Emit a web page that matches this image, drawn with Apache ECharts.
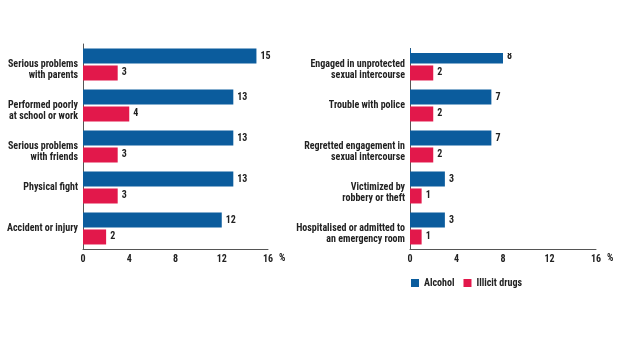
<!DOCTYPE html>
<html>
<head>
<meta charset="utf-8">
<script src="https://cdn.jsdelivr.net/npm/echarts@6/dist/echarts.min.js"></script>
<style>
  html, body { margin: 0; padding: 0; background: #fff; }
  #chart { width: 620px; height: 348px; }
</style>
</head>
<body>
<div id="chart"></div>
<script>
// Consequences reported, by substance (% of respondents)
const leftCategories = [
  'Serious problems\nwith parents',
  'Performed poorly\nat school or work',
  'Serious problems\nwith friends',
  'Physical fight',
  'Accident or injury'
];
const leftAlcohol = [15, 13, 13, 13, 12];
const leftDrugs = [3, 4, 3, 3, 2];

const rightCategories = [
  'Engaged in unprotected\nsexual intercourse',
  'Trouble with police',
  'Regretted engagement in\nsexual intercourse',
  'Victimized by\nrobbery or theft',
  'Hospitalised or admitted to\nan emergency room'
];
const rightAlcohol = [8, 7, 7, 3, 3];
const rightDrugs = [2, 2, 2, 1, 1];

const axisTicks = [0, 4, 8, 12, 16];
const seriesNames = ['Alcohol', 'Illicit drugs'];

const BLUE = '#0b5c9d';
const RED = '#e2184b';
const TEXT = '#222';
const FONT = '"Roboto Condensed", "DejaVu Sans Condensed", sans-serif';
const WEIGHT = 'bold';
const SIZE = 10;

const chart = echarts.init(document.getElementById('chart'), null, { renderer: 'canvas' });

function xAxisFor(gridIndex) {
  return {
    type: 'value',
    gridIndex: gridIndex,
    min: axisTicks[0],
    max: axisTicks[axisTicks.length - 1],
    interval: axisTicks[1] - axisTicks[0],
    name: '%',
    nameLocation: 'end',
    nameGap: 6,
    nameTextStyle: {
      color: TEXT, fontFamily: FONT, fontSize: SIZE, fontWeight: WEIGHT,
      verticalAlign: 'top', lineHeight: 10, padding: [4, 0, 0, 0]
    },
    axisLine: { show: true, lineStyle: { color: '#555', width: 1 } },
    axisTick: { show: false },
    splitLine: { show: false },
    axisLabel: {
      color: TEXT, fontFamily: FONT, fontSize: SIZE, fontWeight: WEIGHT, margin: 5
    }
  };
}

function yAxisFor(gridIndex, cats) {
  return {
    type: 'category',
    gridIndex: gridIndex,
    data: cats,
    inverse: true,
    axisLine: { show: true, lineStyle: { color: '#555', width: 1 } },
    axisTick: { show: false },
    axisLabel: {
      color: TEXT, fontFamily: FONT, fontSize: SIZE, fontWeight: WEIGHT,
      lineHeight: 11, margin: 5, align: 'right',
      // keep the first text line on the row centre
      formatter: v => (v.indexOf('\n') >= 0 ? '\n' + v : v)
    }
  };
}

function barSeries(name, data, color, axisIdx) {
  return {
    name: name,
    type: 'bar',
    xAxisIndex: axisIdx,
    yAxisIndex: axisIdx,
    data: data,
    barWidth: 15,
    barGap: '13%',
    itemStyle: { color: color },
    label: {
      show: true, position: 'right', distance: 4,
      color: TEXT, fontFamily: FONT, fontSize: SIZE, fontWeight: WEIGHT
    }
  };
}

chart.setOption({
  backgroundColor: '#fff',
  animation: false,
  grid: [
    { left: 83, width: 185, top: 44, height: 205, containLabel: false, outerBoundsMode: 'none' },
    { left: 410, width: 186, top: 44, height: 205, containLabel: false, outerBoundsMode: 'none' }
  ],
  xAxis: [xAxisFor(0), xAxisFor(1)],
  yAxis: [yAxisFor(0, leftCategories), yAxisFor(1, rightCategories)],
  legend: {
    data: seriesNames,
    left: 411,
    top: 278,
    padding: 0,
    icon: 'rect',
    itemWidth: 8,
    itemHeight: 8,
    itemGap: 9,
    textStyle: { color: TEXT, fontFamily: FONT, fontSize: SIZE, fontWeight: WEIGHT }
  },
  series: [
    barSeries(seriesNames[0], leftAlcohol, BLUE, 0),
    barSeries(seriesNames[1], leftDrugs, RED, 0),
    barSeries(seriesNames[0], rightAlcohol, BLUE, 1),
    barSeries(seriesNames[1], rightDrugs, RED, 1)
  ],
  graphic: [
    // blank strip along the top edge of the right panel
    { type: 'rect', left: 411, top: 0, z: 100, shape: { width: 209, height: 53 }, style: { fill: '#fff' } },
    { type: 'rect', left: 405, top: 0, z: 100, shape: { width: 6, height: 48 }, style: { fill: '#fff' } }
  ]
});
</script>
</body>
</html>
